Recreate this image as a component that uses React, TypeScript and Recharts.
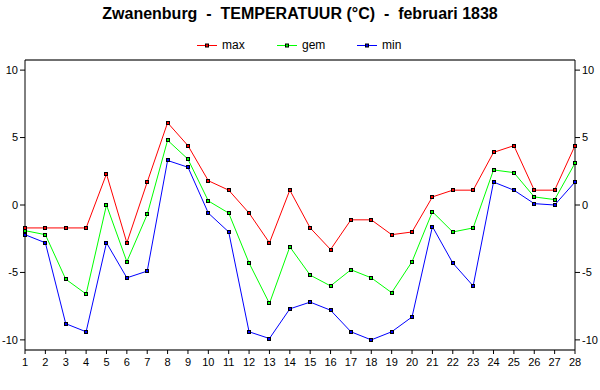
import { LineChart, Line, XAxis, YAxis, CartesianGrid, ReferenceLine } from 'recharts';

// februari 1838, days 1..28
const days = Array.from({ length: 28 }, (_, i) => i + 1);

const maxTemp = [
  -1.7, -1.7, -1.7, -1.7, 2.3, -2.8, 1.7, 6.1, 4.4, 1.8,
  1.1, -0.6, -2.8, 1.1, -1.7, -3.3, -1.1, -1.1, -2.2, -2.0,
  0.6, 1.1, 1.1, 3.9, 4.4, 1.1, 1.1, 4.4,
];
const gemTemp = [
  -1.9, -2.2, -5.5, -6.6, 0.0, -4.2, -0.7, 4.8, 3.4, 0.3,
  -0.6, -4.3, -7.3, -3.1, -5.2, -6.0, -4.8, -5.4, -6.5, -4.2,
  -0.5, -2.0, -1.7, 2.6, 2.4, 0.6, 0.4, 3.1,
];
const minTemp = [
  -2.2, -2.8, -8.8, -9.4, -2.8, -5.4, -4.9, 3.3, 2.8, -0.6,
  -2.0, -9.4, -9.9, -7.7, -7.2, -7.8, -9.4, -10.0, -9.4, -8.3,
  -1.6, -4.3, -6.0, 1.7, 1.1, 0.1, 0.0, 1.7,
];

const yTicks = [-10, -5, 0, 5, 10];
const series = [
  { key: 'max', name: 'max', color: '#ff0000' },
  { key: 'gem', name: 'gem', color: '#00ff00' },
  { key: 'min', name: 'min', color: '#0000ff' },
];

const data = days.map((day, i) => ({
  day,
  max: maxTemp[i],
  gem: gemTemp[i],
  min: minTemp[i],
}));

const FONT = '"Liberation Sans", Arial, sans-serif';

const squareDot = (color: string) => (props: any) => {
  const { cx, cy, index } = props;
  if (cx == null || cy == null) return <g key={`d-${index}`} />;
  return (
    <rect
      key={`d-${color}-${index}`}
      x={Math.round(cx) - 1.5}
      y={Math.round(cy) - 1.5}
      width={3}
      height={3}
      fill={color}
      stroke="#000"
      strokeWidth={1}
    />
  );
};

export default function App() {
  const tickStyle = { fontSize: 11, fill: '#000', fontFamily: FONT };
  return (
    <div style={{ position: 'absolute', left: 0, top: 0, width: 600, height: 390, background: '#fff', fontFamily: FONT }}>
      <div
        style={{
          position: 'absolute',
          top: 6,
          left: 0,
          width: 600,
          textAlign: 'center',
          fontSize: 16,
          lineHeight: '16px',
          fontWeight: 'bold',
          whiteSpace: 'pre',
          color: '#000',
        }}
      >
        {'Zwanenburg  -  TEMPERATUUR (°C)  -  februari 1838'}
      </div>
      {series.map((s, i) => (
        <div key={s.key} style={{ position: 'absolute', top: 39, left: 197 + i * 80, height: 12 }}>
          <svg width={20} height={12} style={{ position: 'absolute', left: 0, top: 0 }}>
            <line x1={0} x2={20} y1={6.5} y2={6.5} stroke={s.color} strokeWidth={1} />
            <rect x={8.5} y={5} width={3} height={3} fill={s.color} stroke="#000" strokeWidth={1} />
          </svg>
          <span style={{ position: 'absolute', left: 25, top: 0, fontSize: 12, lineHeight: '12px', color: '#000' }}>
            {s.name}
          </span>
        </div>
      ))}
      <LineChart
        width={600}
        height={390}
        data={data}
        margin={{ top: 60, right: 0, bottom: 15, left: 0 }}
      >
        <CartesianGrid vertical={false} stroke="#c0c0c0" />
        <XAxis
          dataKey="day"
          type="number"
          domain={[1, 28]}
          ticks={days}
          interval={0}
          height={25}
          tickSize={4}
          tickMargin={4}
          stroke="#000"
          tick={tickStyle}
          allowDecimals={false}
        />
        <YAxis
          yAxisId="left"
          domain={[-10.75, 10.75]}
          ticks={yTicks}
          width={25}
          tickSize={5}
          tickMargin={2}
          stroke="#000"
          tick={tickStyle}
          allowDataOverflow
        />
        <YAxis
          yAxisId="right"
          orientation="right"
          domain={[-10.75, 10.75]}
          ticks={yTicks}
          width={25}
          tickSize={5}
          tickMargin={2}
          stroke="#000"
          tick={tickStyle}
          allowDataOverflow
        />
        <ReferenceLine yAxisId="left" y={10.75} stroke="#000" />
        {series.map((s) => (
          <Line
            key={s.key}
            yAxisId="left"
            type="linear"
            dataKey={s.key}
            name={s.name}
            stroke={s.color}
            strokeWidth={1}
            dot={squareDot(s.color)}
            activeDot={false}
            isAnimationActive={false}
          />
        ))}
      </LineChart>
    </div>
  );
}
